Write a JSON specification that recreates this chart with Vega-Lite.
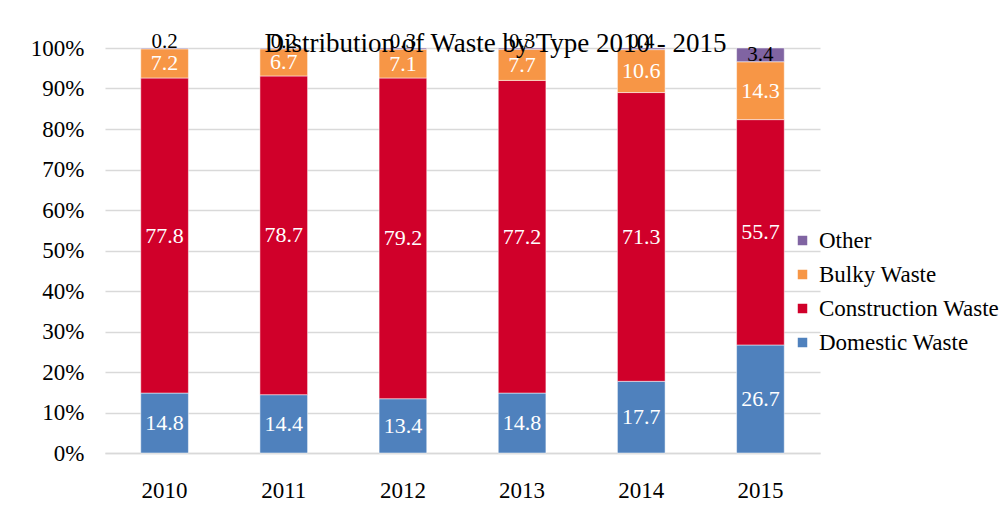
{
  "$schema": "https://vega.github.io/schema/vega-lite/v6.json",
  "width": 715,
  "height": 405,
  "autosize": {"type": "none"},
  "padding": {"left": 105, "top": 48, "right": 183, "bottom": 55},
  "background": "white",
  "title": {
    "text": "Distribution of Waste by Type 2010 - 2015",
    "font": "Liberation Serif",
    "fontSize": 27,
    "fontWeight": "normal",
    "color": "#000000",
    "anchor": "middle",
    "dx": 33,
    "offset": -27
  },
  "data": {
    "values": [
      {"year": "2010", "type": "Domestic Waste", "k": 1, "value": 14.8},
      {"year": "2010", "type": "Construction Waste", "k": 2, "value": 77.8},
      {"year": "2010", "type": "Bulky Waste", "k": 3, "value": 7.2},
      {"year": "2010", "type": "Other", "k": 4, "value": 0.2},
      {"year": "2011", "type": "Domestic Waste", "k": 1, "value": 14.4},
      {"year": "2011", "type": "Construction Waste", "k": 2, "value": 78.7},
      {"year": "2011", "type": "Bulky Waste", "k": 3, "value": 6.7},
      {"year": "2011", "type": "Other", "k": 4, "value": 0.2},
      {"year": "2012", "type": "Domestic Waste", "k": 1, "value": 13.4},
      {"year": "2012", "type": "Construction Waste", "k": 2, "value": 79.2},
      {"year": "2012", "type": "Bulky Waste", "k": 3, "value": 7.1},
      {"year": "2012", "type": "Other", "k": 4, "value": 0.3},
      {"year": "2013", "type": "Domestic Waste", "k": 1, "value": 14.8},
      {"year": "2013", "type": "Construction Waste", "k": 2, "value": 77.2},
      {"year": "2013", "type": "Bulky Waste", "k": 3, "value": 7.7},
      {"year": "2013", "type": "Other", "k": 4, "value": 0.3},
      {"year": "2014", "type": "Domestic Waste", "k": 1, "value": 17.7},
      {"year": "2014", "type": "Construction Waste", "k": 2, "value": 71.3},
      {"year": "2014", "type": "Bulky Waste", "k": 3, "value": 10.6},
      {"year": "2014", "type": "Other", "k": 4, "value": 0.4},
      {"year": "2015", "type": "Domestic Waste", "k": 1, "value": 26.7},
      {"year": "2015", "type": "Construction Waste", "k": 2, "value": 55.7},
      {"year": "2015", "type": "Bulky Waste", "k": 3, "value": 14.3},
      {"year": "2015", "type": "Other", "k": 4, "value": 3.4}
    ]
  },
  "transform": [
    {"stack": "value", "groupby": ["year"], "sort": [{"field": "k", "order": "ascending"}], "as": ["v0", "v1"], "offset": "normalize"},
    {"calculate": "(datum.v0 + datum.v1) / 2", "as": "vmid"}
  ],
  "encoding": {
    "x": {
      "field": "year",
      "type": "nominal",
      "title": null,
      "scale": {"paddingInner": 0.6, "paddingOuter": 0.3},
      "axis": {
        "labelAngle": 0,
        "labelFont": "Liberation Serif",
        "labelFontSize": 23,
        "labelColor": "#000000",
        "labelPadding": 26,
        "ticks": false,
        "domainColor": "#d9d9d9",
        "domainWidth": 1.5
      }
    }
  },
  "layer": [
    {
      "mark": {"type": "bar", "stroke": "white", "strokeWidth": 0.5},
      "encoding": {
        "y": {
          "field": "v0",
          "type": "quantitative",
          "title": null,
          "scale": {"domain": [0, 1]},
          "axis": {
            "format": ".0%",
            "values": [0, 0.1, 0.2, 0.3, 0.4, 0.5, 0.6, 0.7, 0.8, 0.9, 1],
            "labelOverlap": false,
            "labelFont": "Liberation Serif",
            "labelFontSize": 23,
            "labelColor": "#000000",
            "labelPadding": 21,
            "ticks": false,
            "domain": false,
            "gridColor": "#d9d9d9",
            "gridWidth": 1.5
          }
        },
        "y2": {"field": "v1"},
        "color": {
          "field": "type",
          "type": "nominal",
          "sort": ["Other", "Bulky Waste", "Construction Waste", "Domestic Waste"],
          "scale": {
            "domain": ["Other", "Bulky Waste", "Construction Waste", "Domestic Waste"],
            "range": ["#8064a2", "#f79646", "#d0002a", "#4f81bd"]
          },
          "legend": {
            "title": null,
            "orient": "none",
            "legendX": 686,
            "legendY": 181,
            "symbolType": "square",
            "symbolSize": 90,
            "symbolStrokeWidth": 0,
            "labelFont": "Liberation Serif",
            "labelFontSize": 23,
            "labelColor": "#000000",
            "labelOffset": 5,
            "rowPadding": 10,
            "labelLimit": 300
          }
        }
      }
    },
    {
      "transform": [{"filter": "datum.type != 'Other'"}],
      "mark": {"type": "text", "color": "white", "font": "Liberation Serif", "fontSize": 22, "baseline": "middle"},
      "encoding": {
        "y": {"field": "vmid", "type": "quantitative"},
        "text": {"field": "value", "type": "quantitative", "format": ".1f"}
      }
    },
    {
      "transform": [{"filter": "datum.type == 'Other' && datum.value < 1"}],
      "mark": {"type": "text", "color": "black", "font": "Liberation Serif", "fontSize": 21, "baseline": "bottom", "dy": 4},
      "encoding": {
        "y": {"field": "v1", "type": "quantitative"},
        "text": {"field": "value", "type": "quantitative", "format": ".1f"}
      }
    },
    {
      "transform": [{"filter": "datum.type == 'Other' && datum.value >= 1"}],
      "mark": {"type": "text", "color": "black", "font": "Liberation Serif", "fontSize": 21, "baseline": "middle"},
      "encoding": {
        "y": {"field": "vmid", "type": "quantitative"},
        "text": {"field": "value", "type": "quantitative", "format": ".1f"}
      }
    }
  ],
  "config": {"view": {"stroke": null}}
}
